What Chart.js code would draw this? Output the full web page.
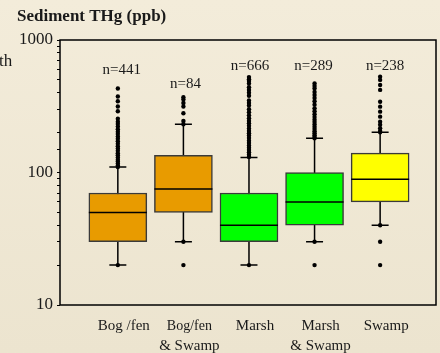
<!DOCTYPE html>
<html>
<head>
<meta charset="utf-8">
<script src="https://cdn.jsdelivr.net/npm/chart.js@4"></script>
<style>
  html, body { margin: 0; padding: 0; }
  body {
    width: 440px; height: 353px; overflow: hidden;
    background: linear-gradient(#f3ecda, #ece4cf);
  }
  canvas { display: block; }
</style>
</head>
<body>
<canvas id="thg" width="440" height="353"></canvas>
<script>
// Sediment THg box plot (log scale)
const categories = [['Bog /fen'], ['Bog/fen', '& Swamp'], ['Marsh'], ['Marsh', '& Swamp'], ['Swamp']];
const sampleSizes = [441, 84, 666, 289, 238];
const lowerWhisker = [20, 30, 20, 30, 40];
const q1 = [30, 50, 30, 40, 60];
const median = [50, 75, 40, 60, 89];
const q3 = [70, 135, 70, 100, 140];
const upperWhisker = [110, 231, 130, 181, 201];
const outliersBogFen = [20, 430, 375, 345, 315, 290, 255, 242, 232, 222, 212, 203, 195, 187, 180, 172, 165, 158, 152, 146, 140, 135, 130, 125, 121, 117, 113, 110];
const outliersBogSwamp = [20, 30, 370, 355, 335, 315, 280, 245, 231];
const outliersMarsh = [20, 525, 505, 490, 470, 440, 420, 400, 380, 350, 335, 320, 300, 285, 270, 257, 245, 235, 225, 215, 206, 198, 190, 182, 174, 167, 160, 154, 148, 142, 136, 131];
const outliersMarshSwamp = [20, 30, 470, 450, 430, 405, 385, 365, 345, 325, 305, 290, 275, 262, 250, 240, 230, 221, 213, 205, 198, 191, 185, 181];
const outliersSwamp = [20, 30, 40, 528, 500, 457, 420, 342, 314, 288, 264, 242, 229, 216, 206, 201];
const outliers = [outliersBogFen, outliersBogSwamp, outliersMarsh, outliersMarshSwamp, outliersSwamp];
const yTickLabels = [10, 100, 1000];
const boxColors = ['#e89b00', '#e89b00', '#00ff00', '#00ff00', '#ffff00'];

const SERIF = '"Liberation Serif", "Times New Roman", serif';
const nLabelY = [70, 84, 66, 66, 66];
const nLabelDx = [4, 2, 1, -1, 5];

const boxData = categories.map((c, i) => ({ x: i, y: [q1[i], q3[i]] }));
const dotData = [];
outliers.forEach((list, i) => list.forEach(v => dotData.push({ x: i, y: v })));

const boxPlugin = {
  id: 'boxParts',
  beforeDatasetsDraw(chart) {
    const ctx = chart.ctx;
    const xs = chart.scales.x, ys = chart.scales.y;
    ctx.save();
    ctx.strokeStyle = '#000';
    ctx.lineWidth = 1.5;
    categories.forEach((c, i) => {
      const x = xs.getPixelForValue(i);
      const yLo = ys.getPixelForValue(lowerWhisker[i]);
      const yHi = ys.getPixelForValue(upperWhisker[i]);
      ctx.beginPath();
      ctx.moveTo(x, yLo); ctx.lineTo(x, yHi);
      ctx.moveTo(x - 8.5, yLo); ctx.lineTo(x + 8.5, yLo);
      ctx.moveTo(x - 8.5, yHi); ctx.lineTo(x + 8.5, yHi);
      ctx.stroke();
    });
    ctx.restore();
  },
  afterDatasetsDraw(chart) {
    const ctx = chart.ctx;
    const ys = chart.scales.y;
    const meta = chart.getDatasetMeta(0);
    ctx.save();
    ctx.strokeStyle = '#000';
    ctx.lineWidth = 1.5;
    meta.data.forEach((bar, i) => {
      const y = ys.getPixelForValue(median[i]);
      ctx.beginPath();
      ctx.moveTo(bar.x - bar.width / 2, y);
      ctx.lineTo(bar.x + bar.width / 2, y);
      ctx.stroke();
    });
    ctx.restore();
  },
  afterDraw(chart) {
    const ctx = chart.ctx;
    const area = chart.chartArea;
    const xs = chart.scales.x;
    ctx.save();
    // plot frame
    ctx.strokeStyle = '#000';
    ctx.lineWidth = 1.5;
    ctx.strokeRect(area.left, area.top, area.right - area.left, area.bottom - area.top);

    ctx.fillStyle = '#1a1a1a';
    ctx.textBaseline = 'middle';
    // title
    ctx.font = 'bold 17px ' + SERIF;
    ctx.textAlign = 'left';
    ctx.fillText('Sediment THg (ppb)', 17, 17);
    // cut-off text at the left edge
    ctx.font = '17px ' + SERIF;
    ctx.fillText('th', -1, 62);

    // sample sizes
    ctx.font = '15px ' + SERIF;
    ctx.textAlign = 'center';
    sampleSizes.forEach((n, i) => {
      ctx.fillText('n=' + n, xs.getPixelForValue(i) + nLabelDx[i], nLabelY[i]);
    });

    // category labels
    categories.forEach((lines, i) => {
      const x = xs.getPixelForValue(i) + 6;
      lines.forEach((t, k) => {
        ctx.font = (lines.length > 1 && k === 0 && i === 1 ? '14px ' : '15px ') + SERIF;
        ctx.fillText(t, x, 326 + k * 20);
      });
    });
    ctx.restore();
  }
};

new Chart(document.getElementById('thg'), {
  data: {
    datasets: [
      {
        type: 'bar',
        data: boxData,
        backgroundColor: boxColors,
        borderColor: '#3a3a3a',
        borderWidth: 1.5,
        borderSkipped: false,
        barThickness: 58
      },
      {
        type: 'scatter',
        data: dotData,
        pointRadius: 2.2,
        pointBackgroundColor: '#000',
        pointBorderWidth: 0
      }
    ]
  },
  options: {
    responsive: false,
    animation: false,
    layout: { padding: { top: 40, right: 3, bottom: 48, left: 0 } },
    plugins: {
      legend: { display: false },
      tooltip: { enabled: false }
    },
    scales: {
      x: {
        type: 'linear',
        min: -0.882,
        max: 4.852,
        offset: false,
        display: false
      },
      y: {
        type: 'logarithmic',
        min: 10,
        max: 1000,
        afterFit(scale) { scale.width = 60; },
        border: { display: false },
        grid: {
          drawOnChartArea: false,
          drawTicks: true,
          tickLength: 3,
          color: '#000',
          lineWidth: 1
        },
        ticks: {
          autoSkip: false,
          padding: 4,
          color: '#1a1a1a',
          font: { family: SERIF, size: 17 },
          callback(value) {
            return yTickLabels.includes(value) ? String(value) : '';
          }
        }
      }
    }
  },
  plugins: [boxPlugin]
});
</script>
</body>
</html>
